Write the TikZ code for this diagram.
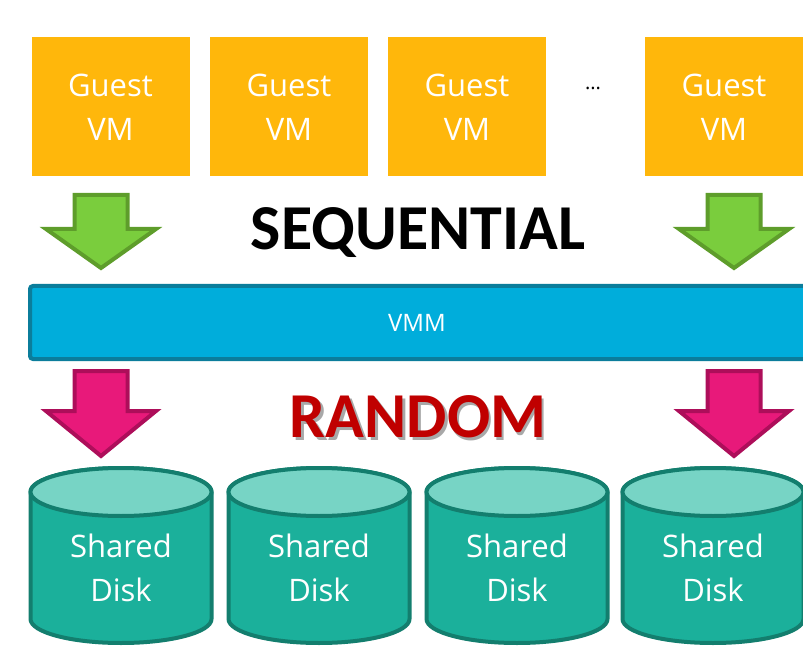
\documentclass[tikz,border=0pt]{standalone}
\usepackage{fontspec}
\setmainfont{Carlito}
\newfontfamily\labelfont{Open Sans}
\definecolor{vmfill}{HTML}{FFB70B}
\definecolor{greenfill}{HTML}{7ACD3D}
\definecolor{greenline}{HTML}{5E9D2B}
\definecolor{pinkfill}{HTML}{E8197A}
\definecolor{pinkline}{HTML}{AD0E5A}
\definecolor{vmmfill}{HTML}{00ADDB}
\definecolor{vmmline}{HTML}{0B7D9B}
\definecolor{diskfill}{HTML}{1BB09B}
\definecolor{disktop}{HTML}{77D4C5}
\definecolor{diskline}{HTML}{137E6E}
\definecolor{randomred}{HTML}{C00000}
\definecolor{textshade}{HTML}{A8A8A8}
\tikzset{
  guestvm/.style={fill=vmfill, minimum width=158pt, minimum height=139pt, inner sep=0pt,
    text=white, font=\labelfont\fontsize{31}{44}\selectfont, align=center},
  greenarrow/.style={fill=greenfill, draw=greenline, line width=4pt, line join=miter},
  pinkarrow/.style={fill=pinkfill, draw=pinkline, line width=4pt, line join=miter},
  disklabel/.style={text=white, font=\labelfont\fontsize{31}{44}\selectfont, align=center},
  pics/blockarrow/.style 2 args={code={
    \path[pic actions] (-26.5,0) -- (26.5,0) -- (26.5,#1) -- (55,#1) -- (0,#2)
      -- (-55,#1) -- (-26.5,#1) -- cycle;}},
}
% a word with a soft grey shadow behind it, set in one box
\newcommand\shadedword[2]{%
  \makebox[0pt][l]{\hspace{2.5pt}\raisebox{-2.5pt}{\color{textshade}#2}}{\color{#1}#2}}
% one storage cylinder: centre x, top ellipse y, bottom ellipse y, name
\newcommand\diskcyl[4]{%
  \path[fill=diskfill, draw=diskline, line width=4pt]
    (#1-90.5,#2) -- (#1-90.5,#3) arc[start angle=180, end angle=0, x radius=90.5, y radius=24]
    -- (#1+90.5,#2) arc[start angle=0, end angle=-180, x radius=90.5, y radius=24] -- cycle;
  \path[fill=disktop, draw=diskline, line width=4pt] (#1,#2) ellipse[x radius=90.5, y radius=24];
  \node[disklabel] (#4) at (#1,568) {Shared\\Disk};}
\begin{document}
\begin{tikzpicture}[x=1pt, y=-1pt]
\useasboundingbox (0,0) rectangle (803,652);
\clip (0,0) rectangle (803,652);

% guest virtual machines
\node[guestvm] (vm1) at (110.5,107) {Guest\\VM};
\node[guestvm] (vm2) at (289,107) {Guest\\VM};
\node[guestvm] (vm3) at (467,107) {Guest\\VM};
\node[font=\labelfont\fontsize{20}{24}\selectfont] (dots) at (593,88) {...};
\node[guestvm] (vm4) at (724,107) {Guest\\VM};

% sequential I/O into the VMM
\pic[greenarrow] at (101,195) {blockarrow={34}{73}};
\pic[greenarrow] at (734,195) {blockarrow={34}{73}};
\node[font=\fontsize{64}{74}\bfseries] (seq) at (418,233) {SEQUENTIAL};

% hypervisor bar
\draw[fill=vmmfill, draw=vmmline, line width=4pt, rounded corners=3pt]
  (30,286) rectangle (830,359);
\node[text=white, font=\labelfont\fontsize{24}{28}\selectfont] (vmm) at (417,323) {VMM};

% random I/O to shared storage
\pic[pinkarrow] at (101,371) {blockarrow={40}{85}};
\pic[pinkarrow] at (734,371) {blockarrow={40}{85}};
\node[font=\fontsize{64}{74}\bfseries] (rand) at (418,418) {\shadedword{randomred}{RANDOM}};

% shared disks
\diskcyl{121}{492}{619}{disk1}
\diskcyl{319}{492}{619}{disk2}
\diskcyl{517}{492}{619}{disk3}
\diskcyl{713}{492}{619}{disk4}
\end{tikzpicture}
\end{document}
